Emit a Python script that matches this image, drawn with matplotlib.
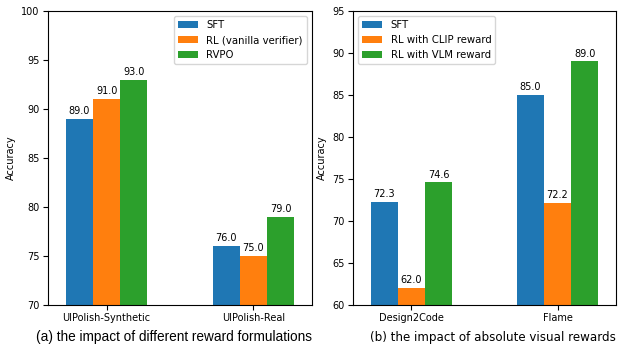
import numpy as np
import matplotlib
matplotlib.use("Agg")
import matplotlib.pyplot as plt

# left panel
cats_a = ["UIPolish-Synthetic", "UIPolish-Real"]
sft_a = [89.0, 76.0]
rl_a = [91.0, 75.0]
rvpo_a = [93.0, 79.0]
names_a = ["SFT", "RL (vanilla verifier)", "RVPO"]

# right panel
cats_b = ["Design2Code", "Flame"]
sft_b = [72.3, 85.0]
clip_b = [62.0, 72.2]
vlm_b = [74.6, 89.0]
names_b = ["SFT", "RL with CLIP reward", "RL with VLM reward"]

colors = ["#1f77b4", "#ff7f0e", "#2ca02c"]
w = 0.185
fs = 7

fig = plt.figure(figsize=(6.19, 3.44), dpi=100)
ax1 = fig.add_axes([48/619, 39/344, 264/619, 294/344])
ax2 = fig.add_axes([353/619, 39/344, 263/619, 294/344])


def panel(ax, cats, series, names, ylim, loc):
    x = np.arange(len(cats))
    for i, (vals, nm) in enumerate(zip(series, names)):
        b = ax.bar(x + (i - 1) * w, vals, w, color=colors[i], label=nm)
        ax.bar_label(b, fmt="%.1f", fontsize=fs, padding=2)
    ax.set_xticks(x)
    ax.set_xticklabels(cats, fontsize=fs)
    ax.set_xlim(-0.4, 1.4)
    ax.set_ylim(*ylim)
    ax.set_yticks(np.arange(ylim[0], ylim[1] + 1, 5))
    ax.tick_params(axis="both", labelsize=fs, pad=2.5)
    ax.set_ylabel("Accuracy", fontsize=fs)
    ax.legend(loc=loc, fontsize=7.3)


panel(ax1, cats_a, [sft_a, rl_a, rvpo_a], names_a, (70, 100), "upper right")
panel(ax2, cats_b, [sft_b, clip_b, vlm_b], names_b, (60, 95), "upper left")

fig.text(174/619, 1 - 337/344, "(a) the impact of different reward formulations",
         ha="center", va="center", fontsize=9.8, family="Liberation Sans")
fig.text(493/619, 1 - 337/344, "(b) the impact of absolute visual rewards",
         ha="center", va="center", fontsize=8.6, family="DejaVu Sans")

fig.savefig("out.png", dpi=100)
